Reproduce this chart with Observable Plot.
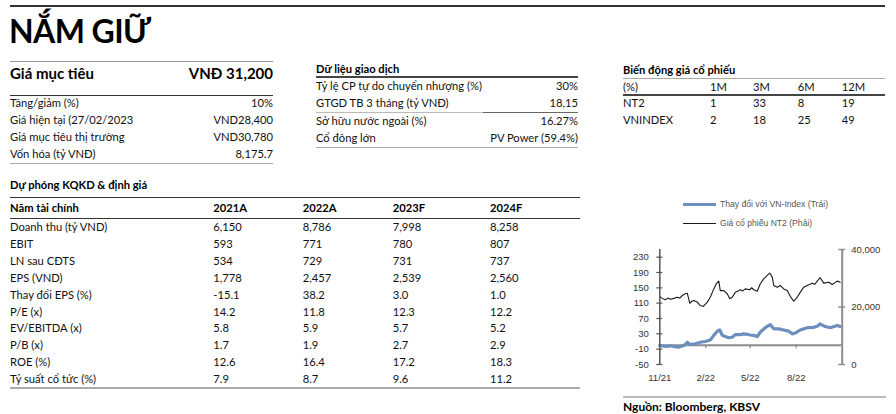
<!DOCTYPE html>
<html>
<head>
<meta charset="utf-8">
<script src="https://cdn.jsdelivr.net/npm/d3@7"></script>
<script src="https://cdn.jsdelivr.net/npm/@observablehq/plot@0.6"></script>
<style>
  html, body { margin: 0; padding: 0; background: #fff; }
  #page { position: relative; width: 896px; height: 414px; overflow: hidden; background: #fff; font-family: Lato, "Noto Sans", sans-serif; }
  #page div { position: absolute; white-space: nowrap; }
</style>
</head>
<body>
<div id="page"></div>
<script>
// ---------- data ----------
const pageTitle = "NẮM GIỮ";
const targetLabel = "Giá mục tiêu";
const targetValue = "VNĐ 31,200";
const summaryLabels = ["Tăng/giảm (%)", "Giá hiện tại (27/02/2023", "Giá mục tiêu thị trường", "Vốn hóa (tỷ VNĐ)"];
const summaryValues = ["10%", "VND28,400", "VND30,780", "8,175.7"];

const tradingTitle = "Dữ liệu giao dịch";
const tradingLabels = ["Tỷ lệ CP tự do chuyển nhượng (%)", "GTGD TB 3 tháng (tỷ VNĐ)", "Sở hữu nước ngoài (%)", "Cổ đông lớn"];
const tradingValues = ["30%", "18,15", "16.27%", "PV Power (59.4%)"];

const perfTitle = "Biến động giá cổ phiếu";
const perfHeader = ["(%)", "1M", "3M", "6M", "12M"];
const perfNT2 = ["NT2", "1", "33", "8", "19"];
const perfVNI = ["VNINDEX", "2", "18", "25", "49"];

const fcTitle = "Dự phóng KQKD & định giá";
const fcHeader = ["Năm tài chính", "2021A", "2022A", "2023F", "2024F"];
const fcLabels = ["Doanh thu (tỷ VND)", "EBIT", "LN sau CĐTS", "EPS (VND)", "Thay đổi EPS (%)", "P/E (x)", "EV/EBITDA (x)", "P/B (x)", "ROE (%)", "Tỷ suất cổ tức (%)"];
const fc2021 = ["6,150", "593", "534", "1,778", "-15.1", "14.2", "5.8", "1.7", "12.6", "7.9"];
const fc2022 = ["8,786", "771", "729", "2,457", "38.2", "11.8", "5.9", "1.9", "16.4", "8.7"];
const fc2023 = ["7,998", "780", "731", "2,539", "3.0", "12.3", "5.7", "2.7", "17.2", "9.6"];
const fc2024 = ["8,258", "807", "737", "2,560", "1.0", "12.2", "5.2", "2.9", "18.3", "11.2"];

const legendLabels = ["Thay đổi với VN-Index (Trái)", "Giá cổ phiếu NT2 (Phải)"];
const sourceText = "Nguồn: Bloomberg, KBSV";

// chart series
const ntDates = ["2021-11-01","2021-11-06","2021-11-12","2021-11-17","2021-11-22","2021-11-29","2021-12-06","2021-12-11","2021-12-16","2021-12-22","2021-12-26","2021-12-31","2022-01-04","2022-01-08","2022-01-15","2022-01-21","2022-01-27","2022-02-04","2022-02-10","2022-02-17","2022-02-22","2022-02-27","2022-03-02","2022-03-09","2022-03-16","2022-03-21","2022-03-26","2022-04-01","2022-04-06","2022-04-11","2022-04-16","2022-04-21","2022-04-30","2022-05-04","2022-05-08","2022-05-15","2022-05-21","2022-05-28","2022-06-04","2022-06-09","2022-06-14","2022-06-17","2022-06-24","2022-06-30","2022-07-07","2022-07-14","2022-07-20","2022-07-27","2022-08-03","2022-08-09","2022-08-16","2022-08-23","2022-09-02","2022-09-07","2022-09-12","2022-09-18","2022-09-25","2022-10-05","2022-10-12","2022-10-17","2022-10-22","2022-10-28"];
const ntPrice = [23600,23000,22500,23100,22700,23000,23400,23100,24000,24600,24800,21300,22000,22300,21700,20500,20200,21700,23400,26300,28100,29000,25700,25700,24600,22900,23400,25100,25500,26000,25600,26300,26000,26700,26000,25500,28100,29800,31000,31800,30400,27500,26900,27500,26300,25700,23700,22000,23400,25100,26900,27500,28300,27900,29000,30200,28300,28600,27800,28400,29000,28600];

const relDates = ["2021-11-01","2021-11-09","2021-11-16","2021-11-22","2021-11-29","2021-12-04","2021-12-09","2021-12-14","2021-12-19","2021-12-26","2022-01-01","2022-01-06","2022-01-11","2022-01-16","2022-01-21","2022-01-31","2022-02-05","2022-02-10","2022-02-17","2022-02-24","2022-03-01","2022-03-06","2022-03-12","2022-03-19","2022-03-26","2022-04-01","2022-04-11","2022-04-18","2022-04-25","2022-05-01","2022-05-08","2022-05-15","2022-05-21","2022-05-31","2022-06-10","2022-06-17","2022-06-27","2022-07-07","2022-07-17","2022-07-24","2022-07-30","2022-08-09","2022-08-23","2022-09-05","2022-09-12","2022-09-18","2022-09-28","2022-10-08","2022-10-22","2022-10-28"];
const relChange = [0,-2,-3,-1,-3,-4,-5,-2,-1,8,2,3,4,6,8,10,12,14,26,37,40,26,23,20,21,28,28,30,29,27,26,23,34,46,54,43,43,40,37,30,32,40,46,47,50,56,49,46,52,49];

const leftTicks = [-50, -10, 30, 70, 110, 150, 190, 230];
const rightTicks = [0, 20000, 40000];
const xTickDates = ["2021-11-01", "2022-02-01", "2022-05-01", "2022-08-01"];
const xTickLabels = ["11/21", "2/22", "5/22", "8/22"];

// ---------- page helpers ----------
const page = document.getElementById("page");
const FONT = "Lato, 'Noto Sans', sans-serif";
function txt(x, y, s, o = {}) {
  const d = document.createElement("div");
  d.textContent = s;
  const size = o.size || 11.2;
  Object.assign(d.style, {
    top: (y - 10) + "px", height: "20px", lineHeight: "20px",
    fontSize: size + "px", fontWeight: o.weight || 400, color: o.color || "#111",
    fontFamily: o.family || FONT, letterSpacing: o.ls || "normal"
  });
  if (o.align === "right") { d.style.left = (x - 400) + "px"; d.style.width = "400px"; d.style.textAlign = "right"; }
  else d.style.left = x + "px";
  page.appendChild(d);
}
function hline(x1, x2, y, color, w) {
  const d = document.createElement("div");
  Object.assign(d.style, { left: x1 + "px", top: (y - w / 2) + "px", width: (x2 - x1) + "px", height: w + "px", background: color });
  page.appendChild(d);
}

// title
hline(10, 885, 6, "#333", 2);
txt(9, 31, pageTitle, { size: 32, weight: 700, color: "#000", ls: "-0.6px" });

// left summary block
hline(10, 273, 61.5, "#999", 1.2);
txt(10, 73, targetLabel, { size: 15, weight: 700, color: "#000" });
txt(273, 73, targetValue, { size: 15, weight: 700, color: "#000", align: "right" });
hline(10, 273, 95.5, "#333", 1.6);
const sumY = [103, 119.8, 136.8, 154];
summaryLabels.forEach((s, i) => { txt(10, sumY[i], s); txt(273, sumY[i], summaryValues[i], { align: "right" }); });
hline(10, 273, 163.5, "#aaa", 1.6);

// trading block
txt(316, 69, tradingTitle, { weight: 700, color: "#000" });
hline(316, 578, 77, "#444", 1.6);
const trY = [86, 103.3, 121, 138.3];
tradingLabels.forEach((s, i) => { txt(316, trY[i], s); txt(578, trY[i], tradingValues[i], { align: "right" }); });
hline(316, 578, 112.3, "#bbb", 1);
hline(483, 578, 112.3, "#666", 1.4);
hline(316, 578, 147.7, "#aaa", 1.6);

// performance block
txt(623, 70, perfTitle, { weight: 700, color: "#000" });
hline(623, 885, 78.3, "#aaa", 1.6);
const perfX = [623, 710, 753, 797.7, 841.7];
perfHeader.forEach((s, i) => txt(perfX[i], 86.7, s));
hline(623, 885, 95, "#444", 1.6);
perfNT2.forEach((s, i) => txt(perfX[i], 103.3, s));
perfVNI.forEach((s, i) => txt(perfX[i], 119.5, s));

// forecast table
txt(10, 185, fcTitle, { weight: 700, color: "#000" });
hline(10, 580, 197.3, "#333", 1.6);
const fcX = [10, 213.3, 302.7, 392.7, 490];
fcHeader.forEach((s, i) => txt(fcX[i], 208.3, s, { weight: 700, color: "#000" }));
hline(10, 580, 218.3, "#333", 1.4);
const cols = [fcLabels, fc2021, fc2022, fc2023, fc2024];
fcLabels.forEach((_, r) => {
  const y = 227.3 + r * 16.85;
  cols.forEach((c, ci) => txt(fcX[ci], y, c[r]));
});
hline(10, 580, 388.3, "#aaa", 1.8);

// chart legend
const legend = [["#6d8fbf", 3], ["#1a1a1a", 1.2]];
[204.3, 223.3].forEach((y, i) => {
  hline(683, 716, y, legend[i][0], legend[i][1]);
  txt(720, y, legendLabels[i], { size: 8.6, color: "#555", family: "'Liberation Sans', Arial, sans-serif" });
});

// source
hline(622.7, 886, 397.3, "#bbb", 1.8);
txt(623, 406.7, sourceText, { size: 12, weight: 700, color: "#000" });

// ---------- chart ----------
const parse = d3.utcParse("%Y-%m-%d");
const ntData = ntDates.map((d, i) => ({ date: parse(d), price: ntPrice[i] }));
const relData = relDates.map((d, i) => ({ date: parse(d), value: relChange[i] }));
const yMin = -50, yMax = 250, pMax = 40000;
const toLeft = v => yMin + v * (yMax - yMin) / pMax;
const xStart = parse("2021-11-01"), xEnd = parse("2022-11-01");
const shift = (d, days) => new Date(+d + days * 864e5);
const tickDates = xTickDates.map(parse);
const labelMap = new Map(tickDates.map((d, i) => [+d, xTickLabels[i]]));

const chart = Plot.plot({
  width: 290, height: 150,
  marginLeft: 59.3, marginRight: 48.3, marginTop: 9, marginBottom: 26,
  x: { type: "utc", domain: [xStart, xEnd], label: null },
  y: { domain: [yMin, yMax], label: null },
  style: { fontFamily: "'Liberation Sans', Arial, sans-serif", fontSize: "9.5px", color: "#333", background: "transparent", overflow: "visible" },
  marks: [
    Plot.ruleY([0], { stroke: "#8c8c8c", strokeWidth: 2 }),
    Plot.ruleX(tickDates.slice(1), { x: d => d, y1: 0, y2: -9, stroke: "#8c8c8c", strokeWidth: 1.2 }),
    Plot.line(relData, { x: "date", y: "value", stroke: "#6d8fbf", strokeWidth: 3.2 }),
    Plot.line(ntData, { x: "date", y: d => toLeft(d.price), stroke: "#1a1a1a", strokeWidth: 1.1 }),
    Plot.ruleX([xStart], { stroke: "#555", strokeWidth: 1.5 }),
    Plot.ruleX([xEnd], { stroke: "#8c8c8c", strokeWidth: 2 }),
    Plot.ruleY(leftTicks, { y: d => d, x1: shift(xStart, -6), x2: shift(xStart, 6), stroke: "#555", strokeWidth: 1.2 }),
    Plot.ruleY(rightTicks.map(toLeft), { y: d => d, x1: shift(xEnd, -7), x2: shift(xEnd, 7), stroke: "#8c8c8c", strokeWidth: 1.4 }),
    Plot.axisY({ anchor: "left", ticks: leftTicks, tickSize: 0, tickPadding: 11, label: null, tickFormat: d => String(d) }),
    Plot.axisY({ anchor: "right", ticks: rightTicks.map(toLeft), tickSize: 0, tickPadding: 9, label: null,
      tickFormat: d => d3.format(",")(Math.round((d - yMin) * pMax / (yMax - yMin))) }),
    Plot.axisX({ anchor: "bottom", ticks: tickDates, tickSize: 0, tickPadding: 10, label: null, tickFormat: d => labelMap.get(+d) })
  ]
});
chart.style.position = "absolute";
chart.style.left = "600px";
chart.style.top = "240px";
page.appendChild(chart);
</script>
</body>
</html>
